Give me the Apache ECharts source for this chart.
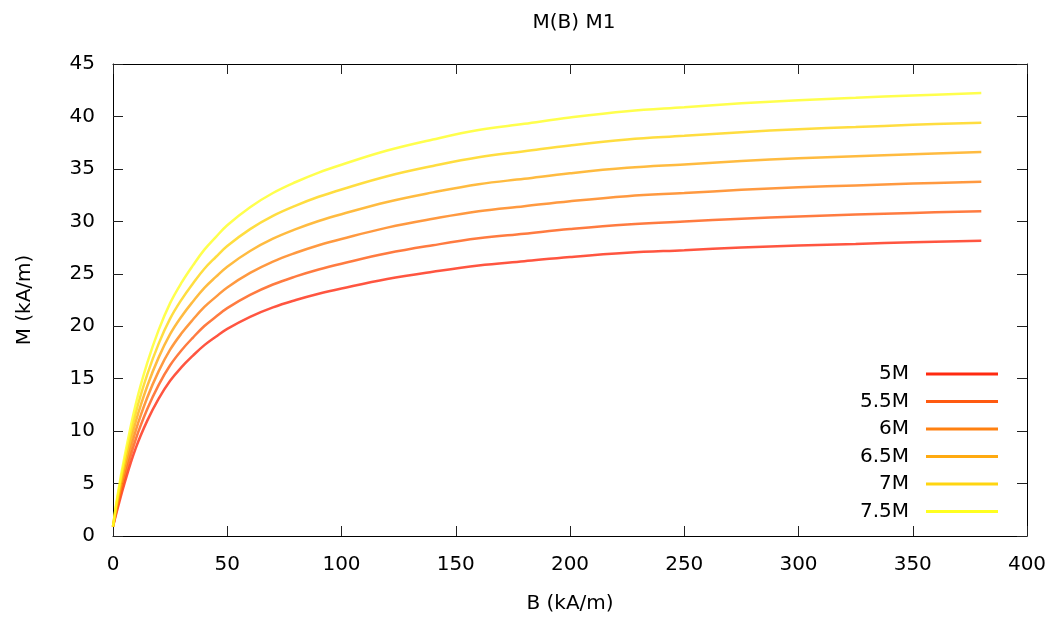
<!DOCTYPE html>
<html>
<head>
<meta charset="utf-8">
<script src="https://cdn.jsdelivr.net/npm/echarts@6/dist/echarts.min.js"></script>
<style>html,body{margin:0;padding:0;background:#fff}#c{width:1060px;height:622px}</style>
</head>
<body>
<div id="c"></div>
<script>
const title = 'M(B) M1';
const xName = 'B (kA/m)';
const yName = 'M (kA/m)';
const seriesNames = ['5M', '5.5M', '6M', '6.5M', '7M', '7.5M'];
const colors = ['#ff2a10', '#ff5a10', '#ff8010', '#ffaa10', '#ffd510', '#ffff20'];
const B    = [0, 2, 5, 10, 15, 20, 25, 30, 35, 40, 45, 50, 60, 70, 80, 90, 100, 120, 140, 160, 180, 200, 225, 250, 275, 300, 325, 350, 380];
const m5   = [0.9, 2.6, 5.0, 8.4, 11.0, 13.1, 14.8, 16.1, 17.2, 18.2, 19.0, 19.75, 20.9, 21.8, 22.5, 23.1, 23.6, 24.5, 25.2, 25.8, 26.2, 26.6, 27.0, 27.25, 27.5, 27.7, 27.85, 28.0, 28.15];
const m5_5 = [0.9, 2.86, 5.5, 9.24, 12.1, 14.41, 16.28, 17.71, 18.92, 20.02, 20.9, 21.73, 22.99, 23.98, 24.75, 25.41, 25.96, 26.95, 27.72, 28.38, 28.82, 29.26, 29.7, 29.98, 30.25, 30.47, 30.64, 30.8, 30.97];
const m6   = [0.9, 3.12, 6.0, 10.08, 13.2, 15.72, 17.76, 19.32, 20.64, 21.84, 22.8, 23.7, 25.08, 26.16, 27.0, 27.72, 28.32, 29.4, 30.24, 30.96, 31.44, 31.92, 32.4, 32.7, 33.0, 33.24, 33.42, 33.6, 33.78];
const m6_5 = [0.9, 3.38, 6.5, 10.92, 14.3, 17.03, 19.24, 20.93, 22.36, 23.66, 24.7, 25.68, 27.17, 28.34, 29.25, 30.03, 30.68, 31.85, 32.76, 33.54, 34.06, 34.58, 35.1, 35.43, 35.75, 36.01, 36.21, 36.4, 36.6];
const m7   = [0.9, 3.64, 7.0, 11.76, 15.4, 18.34, 20.72, 22.54, 24.08, 25.48, 26.6, 27.65, 29.26, 30.52, 31.5, 32.34, 33.04, 34.3, 35.28, 36.12, 36.68, 37.24, 37.8, 38.15, 38.5, 38.78, 38.99, 39.2, 39.41];
const m7_5 = [0.9, 3.9, 7.5, 12.6, 16.5, 19.65, 22.2, 24.15, 25.8, 27.3, 28.5, 29.63, 31.35, 32.7, 33.75, 34.65, 35.4, 36.75, 37.8, 38.7, 39.3, 39.9, 40.5, 40.88, 41.25, 41.55, 41.78, 42.0, 42.23];
const allM = [m5, m5_5, m6, m6_5, m7, m7_5];

const font = 'DejaVu Sans';
const fs = 20;
const chart = echarts.init(document.getElementById('c'), null, {renderer: 'canvas'});

function axisCommon(show, margin) {
  return {
    axisLine: {show: true, onZero: false, lineStyle: {color: '#000', width: 1}},
    axisTick: {show: true, inside: true, length: 10, lineStyle: {color: '#222', width: 1}},
    splitLine: {show: false},
    axisLabel: {show: show, color: '#000', fontFamily: font, fontSize: fs, margin: margin || 8}
  };
}

const series = seriesNames.map((n, i) => ({
  name: n,
  type: 'line',
  xAxisIndex: 0,
  yAxisIndex: 0,
  smooth: 0.4,
  showSymbol: false,
  symbol: 'none',
  data: B.map((b, j) => [b, allM[i][j]]),
  lineStyle: {color: colors[i], width: 2.5, opacity: 0.8},
  itemStyle: {color: colors[i]}
}));

chart.setOption({
  animation: false,
  backgroundColor: '#fff',
  title: {
    text: title, left: 569, top: 8, textAlign: 'center',
    textStyle: {fontFamily: font, fontSize: fs, fontWeight: 'normal', color: '#000'}
  },
  grid: {left: 113, right: 33, top: 64, bottom: 86, containLabel: false},
  legend: {
    orient: 'vertical', right: 57, top: 359, align: 'right',
    itemWidth: 72, itemHeight: 3, itemGap: 7.5, icon: 'rect',
    data: seriesNames.map((n, i) => ({name: n, itemStyle: {color: colors[i], opacity: 1}})),
    textStyle: {fontFamily: font, fontSize: fs, color: '#000', lineHeight: 20, padding: [0, 12, 0, 0]}
  },
  xAxis: [
    Object.assign({type: 'value', min: 0, max: 400, interval: 50, position: 'bottom',
      name: xName, nameLocation: 'middle', nameGap: 58,
      nameTextStyle: {fontFamily: font, fontSize: fs, color: '#000'}}, axisCommon(true, 19)),
    Object.assign({type: 'value', min: 0, max: 400, interval: 50, position: 'top'}, axisCommon(false))
  ],
  yAxis: [
    Object.assign({type: 'value', min: 0, max: 45, interval: 5, position: 'left',
      name: yName, nameLocation: 'middle', nameGap: 78,
      nameTextStyle: {fontFamily: font, fontSize: fs, color: '#000'}}, axisCommon(true, 18)),
    Object.assign({type: 'value', min: 0, max: 45, interval: 5, position: 'right'}, axisCommon(false))
  ],
  series: series
});
</script>
</body>
</html>
